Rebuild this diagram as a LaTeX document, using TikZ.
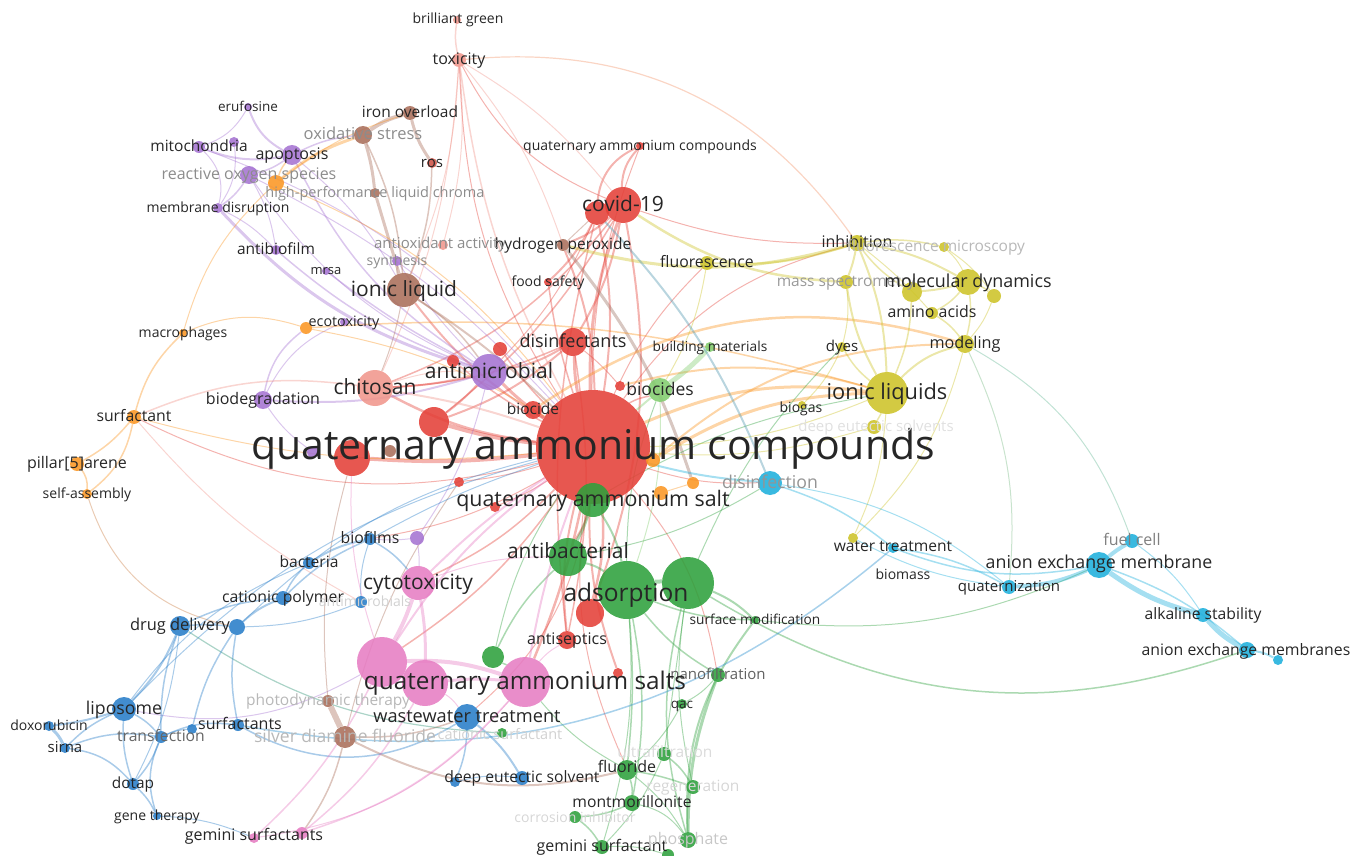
\documentclass[tikz,border=0pt]{standalone}
\usepackage{fontspec}
\setmainfont{Open Sans}
\pgfdeclarelayer{bg}
\pgfsetlayers{bg,main}
\definecolor{cred}{RGB}{228,64,56}
\definecolor{cgreen}{RGB}{46,160,60}
\definecolor{cblue}{RGB}{40,125,200}
\definecolor{cyel}{RGB}{205,195,40}
\definecolor{cpur}{RGB}{165,115,210}
\definecolor{ccyan}{RGB}{30,175,220}
\definecolor{corange}{RGB}{250,150,35}
\definecolor{cbrown}{RGB}{170,110,90}
\definecolor{cpink}{RGB}{230,125,195}
\definecolor{csalm}{RGB}{240,150,140}
\definecolor{clgreen}{RGB}{130,205,110}
\newcommand\edg[5]{\draw[draw=#1, line width=#2pt, draw opacity=0.4] (#3) to[bend left=#5] (#4);}
\begin{document}
\begin{tikzpicture}[x=1pt,y=-1pt,
  nd/.style={circle, fill=#1, draw=none, inner sep=0pt, fill opacity=0.88},
  lb/.style={font=\fontsize{#1}{#1}\selectfont, text=black!85, inner sep=0pt, anchor=base, yshift={-0.3*#1pt}},
]
\useasboundingbox (0,0) rectangle (1353,856);
% ---------- nodes ----------
% red
\node[nd=cred, minimum size=114pt] (Q) at (593,447) {};
\node[nd=cred, minimum size=36pt] (covid) at (623,205) {};
\node[nd=cred, minimum size=24pt] (covidb) at (597,213) {};
\node[nd=cred, minimum size=8pt] (qacs) at (640,146) {};
\node[nd=cred, minimum size=28pt] (disinf) at (573,342) {};
\node[nd=cred, minimum size=8pt] (fsafe) at (548,282) {};
\node[nd=cred, minimum size=18pt] (biocide) at (533,410) {};
\node[nd=cred, minimum size=30pt] (rL) at (434,422) {};
\node[nd=cred, minimum size=36pt] (rQ) at (352,458) {};
\node[nd=cred, minimum size=12pt] (r1) at (453,361) {};
\node[nd=cred, minimum size=14pt] (r2) at (500,349) {};
\node[nd=cred, minimum size=10pt] (r3) at (620,386) {};
\node[nd=cred, minimum size=10pt] (r4) at (459,482) {};
\node[nd=cred, minimum size=10pt] (r5) at (495,507) {};
\node[nd=cred, minimum size=18pt] (antisep) at (567,640) {};
\node[nd=cred, minimum size=28pt] (r6) at (590,613) {};
\node[nd=cred, minimum size=10pt] (r7) at (618,673) {};
\node[nd=cred!60!cbrown, minimum size=10pt] (ros) at (432,163) {};
\node[nd=csalm, minimum size=10pt] (antiox) at (443,245) {};
% salmon
\node[nd=csalm, minimum size=14pt] (tox) at (459,60) {};
\node[nd=csalm, minimum size=8pt] (bgreen) at (457,20) {};
\node[nd=csalm, minimum size=36pt] (chitosan) at (375,388) {};
% brown
\node[nd=cbrown, minimum size=34pt] (ionic) at (404,290) {};
\node[nd=cbrown, minimum size=14pt] (iron) at (410,113) {};
\node[nd=cbrown, minimum size=18pt] (oxid) at (363,135) {};
\node[nd=cbrown, minimum size=10pt] (hplc) at (375,193) {};
\node[nd=cbrown, minimum size=12pt] (hperox) at (563,245) {};
\node[nd=cbrown, minimum size=22pt] (silver) at (345,737) {};
\node[nd=cbrown, minimum size=12pt] (photo) at (328,701) {};
\node[nd=cbrown, minimum size=12pt] (b1) at (390,451) {};
% purple
\node[nd=cpur, minimum size=36pt] (antimic) at (489,372) {};
\node[nd=cpur, minimum size=20pt] (apop) at (292,155) {};
\node[nd=cpur, minimum size=12pt] (mito) at (199,147) {};
\node[nd=cpur, minimum size=10pt] (p1) at (234,142) {};
\node[nd=cpur, minimum size=8pt] (eruf) at (248,107) {};
\node[nd=cpur, minimum size=18pt] (reactive) at (249,175) {};
\node[nd=cpur, minimum size=10pt] (memb) at (218,208) {};
\node[nd=cpur, minimum size=10pt] (antibiof) at (276,250) {};
\node[nd=cpur, minimum size=8pt] (mrsa) at (326,271) {};
\node[nd=cpur, minimum size=10pt] (synth) at (397,261) {};
\node[nd=cpur, minimum size=18pt] (biodeg) at (263,400) {};
\node[nd=cpur, minimum size=8pt] (ecotox) at (344,322) {};
\node[nd=cpur, minimum size=14pt] (p2) at (417,538) {};
\node[nd=cpur, minimum size=12pt] (p3) at (313,452) {};
% orange
\node[nd=corange, minimum size=16pt] (o1) at (276,183) {};
\node[nd=corange, minimum size=12pt] (o2) at (306,328) {};
\node[nd=corange, minimum size=8pt] (macro) at (183,333) {};
\node[nd=corange, minimum size=14pt] (surf) at (134,417) {};
\node[nd=corange, minimum size=14pt] (pillar) at (77,464) {};
\node[nd=corange, minimum size=10pt] (selfa) at (87,494) {};
\node[nd=corange, minimum size=14pt] (o3) at (653,460) {};
\node[nd=corange, minimum size=12pt] (o4) at (693,483) {};
\node[nd=corange, minimum size=14pt] (o5) at (661,493) {};
% green
\node[nd=cgreen, minimum size=34pt] (qas) at (593,500) {};
\node[nd=cgreen, minimum size=38pt] (antibac) at (568,557) {};
\node[nd=cgreen, minimum size=58pt] (ads) at (627,590) {};
\node[nd=cgreen, minimum size=52pt] (ads2) at (688,583) {};
\node[nd=cgreen, minimum size=8pt] (surfmod) at (755,620) {};
\node[nd=cgreen, minimum size=22pt] (g1) at (493,657) {};
\node[nd=cgreen, minimum size=14pt] (nanof) at (718,675) {};
\node[nd=cgreen, minimum size=10pt] (qac) at (682,704) {};
\node[nd=cgreen, minimum size=14pt] (g2) at (664,754) {};
\node[nd=cgreen, minimum size=20pt] (fluoride) at (627,770) {};
\node[nd=cgreen, minimum size=14pt] (regen) at (693,787) {};
\node[nd=cgreen, minimum size=16pt] (montm) at (632,803) {};
\node[nd=cgreen, minimum size=12pt] (corr) at (575,817) {};
\node[nd=cgreen, minimum size=14pt] (gemini) at (602,847) {};
\node[nd=cgreen, minimum size=16pt] (phos) at (688,840) {};
\node[nd=cgreen, minimum size=12pt] (g3) at (668,855) {};
\node[nd=cgreen, minimum size=10pt] (catsurf) at (502,733) {};
\node[nd=clgreen, minimum size=10pt] (bmat) at (710,347) {};
\node[nd=clgreen, minimum size=24pt] (biocides) at (660,390) {};
% blue
\node[nd=cblue, minimum size=12pt] (biofilms) at (370,539) {};
\node[nd=cblue, minimum size=12pt] (bact) at (309,563) {};
\node[nd=cblue, minimum size=14pt] (catpoly) at (283,598) {};
\node[nd=cblue, minimum size=12pt] (bl1) at (361,602) {};
\node[nd=cblue, minimum size=16pt] (bl2) at (237,627) {};
\node[nd=cblue, minimum size=20pt] (drug) at (180,626) {};
\node[nd=cblue, minimum size=24pt] (lipo) at (124,709) {};
\node[nd=cblue, minimum size=10pt] (doxo) at (49,726) {};
\node[nd=cblue, minimum size=10pt] (sirna) at (65,748) {};
\node[nd=cblue, minimum size=12pt] (transf) at (161,737) {};
\node[nd=cblue, minimum size=10pt] (bl3) at (192,729) {};
\node[nd=cblue, minimum size=12pt] (surfs) at (238,725) {};
\node[nd=cblue, minimum size=12pt] (dotap) at (133,784) {};
\node[nd=cblue, minimum size=8pt] (gene) at (157,816) {};
\node[nd=cblue, minimum size=26pt] (waste) at (467,717) {};
\node[nd=cblue, minimum size=14pt] (des) at (522,778) {};
\node[nd=cblue, minimum size=10pt] (bl4) at (455,782) {};
% pink
\node[nd=cpink, minimum size=34pt] (cyto) at (418,583) {};
\node[nd=cpink, minimum size=50pt] (pk1) at (382,662) {};
\node[nd=cpink, minimum size=46pt] (pk2) at (425,683) {};
\node[nd=cpink, minimum size=50pt] (qass) at (525,682) {};
\node[nd=cpink, minimum size=10pt] (gem1) at (254,838) {};
\node[nd=cpink, minimum size=12pt] (gem2) at (302,833) {};
% yellow
\node[nd=cyel, minimum size=42pt] (ionics) at (887,393) {};
\node[nd=cyel, minimum size=16pt] (inhib) at (857,243) {};
\node[nd=cyel, minimum size=10pt] (fmicro) at (944,247) {};
\node[nd=cyel, minimum size=14pt] (mass) at (846,282) {};
\node[nd=cyel, minimum size=26pt] (moldyn) at (968,282) {};
\node[nd=cyel, minimum size=20pt] (y1) at (912,292) {};
\node[nd=cyel, minimum size=14pt] (y2) at (994,296) {};
\node[nd=cyel, minimum size=12pt] (amino) at (932,313) {};
\node[nd=cyel, minimum size=18pt] (model) at (965,344) {};
\node[nd=cyel, minimum size=10pt] (dyes) at (842,347) {};
\node[nd=cyel, minimum size=8pt] (biogas) at (802,405) {};
\node[nd=cyel, minimum size=14pt] (y3) at (874,427) {};
\node[nd=cyel, minimum size=14pt] (fluor) at (707,263) {};
\node[nd=cyel, minimum size=10pt] (wtreat) at (853,538) {};
% cyan
\node[nd=ccyan, minimum size=24pt] (disinfn) at (770,483) {};
\node[nd=ccyan, minimum size=26pt] (aem) at (1099,565) {};
\node[nd=ccyan, minimum size=14pt] (fuel) at (1132,541) {};
\node[nd=ccyan, minimum size=14pt] (quatz) at (1009,587) {};
\node[nd=ccyan, minimum size=14pt] (alk) at (1203,615) {};
\node[nd=ccyan, minimum size=16pt] (aems) at (1247,650) {};
\node[nd=ccyan, minimum size=10pt] (c1) at (1278,660) {};
\node[nd=ccyan, minimum size=10pt] (c2) at (893,548) {};
% ---------- edges ----------
\begin{pgfonlayer}{bg}
% red hub
\edg{cred}{3}{Q}{covid}{10}
\edg{cred}{2}{Q}{covidb}{-10}
\edg{cred}{3}{Q}{disinf}{5}
\edg{cred}{2.5}{Q}{chitosan}{10}
\edg{cred}{2}{Q}{ionic}{10}
\edg{cred}{3}{Q}{antimic}{5}
\edg{cred}{2}{Q}{biocide}{0}
\edg{cred}{4}{Q}{rL}{5}
\edg{cred}{4}{Q}{rQ}{5}
\edg{cred}{2}{Q}{hperox}{-10}
\edg{cred}{1.5}{Q}{fsafe}{5}
\edg{cred}{1}{Q}{tox}{15}
\edg{cred}{1}{Q}{qacs}{10}
\edg{cred}{1.5}{Q}{r1}{5}
\edg{cred}{1.5}{Q}{r2}{5}
\edg{cred}{2}{Q}{antisep}{-10}
\edg{cred}{2.5}{Q}{r6}{10}
\edg{cred}{2}{Q}{r7}{-10}
\edg{cred}{1.5}{Q}{pk1}{10}
\edg{cred}{2.5}{Q}{qass}{5}
\edg{cred}{1.5}{Q}{cyto}{10}
\edg{cred}{2}{Q}{antibac}{10}
\edg{corange}{3}{Q}{ionics}{15}
\edg{cred}{1.5}{Q}{biocides}{10}
\edg{cred}{1}{Q}{inhib}{20}
\edg{cred}{1}{Q}{fluor}{10}
\edg{cred}{1}{Q}{disinfn}{-10}
\edg{cred}{1}{Q}{waste}{20}
\edg{cred}{1}{Q}{biofilms}{10}
\edg{cred}{1}{Q}{surf}{20}
\edg{cred}{1}{Q}{fluoride}{-15}
\edg{cred}{1}{Q}{nanof}{15}
\edg{cred}{1}{Q}{r4}{5}
\edg{cred}{1}{Q}{r5}{5}
% covid
\edg{cred}{2}{covid}{qacs}{20}
\edg{cred}{2}{covidb}{qacs}{30}
\edg{cred}{2}{covid}{hperox}{10}
\edg{cred}{2}{covidb}{fsafe}{10}
\edg{cred}{2}{covid}{disinf}{10}
\edg{cred}{2}{covid}{r6}{15}
\edg{cred}{1.5}{covidb}{antisep}{-10}
\edg{cred}{1.5}{covid}{rL}{10}
\edg{cred}{1.5}{covid}{chitosan}{15}
\edg{cred}{1}{covid}{inhib}{-10}
\edg{cyel}{3}{hperox}{inhib}{-15}
\edg{cyel}{2.5}{covid}{mass}{-15}
\edg{cred}{1}{covidb}{antimic}{10}
\edg{cred}{1}{covid}{tox}{20}
% disinfectants / antimicrobial
\edg{cred}{2}{disinf}{antimic}{10}
\edg{cred}{2}{disinf}{rL}{10}
\edg{cred}{1.5}{disinf}{chitosan}{10}
\edg{cred}{1.5}{disinf}{antisep}{10}
\edg{cred}{1}{disinf}{r3}{5}
\edg{cpur}{3}{antimic}{memb}{15}
\edg{cpur}{1.5}{antimic}{antibiof}{10}
\edg{cpur}{1.5}{antimic}{mrsa}{5}
\edg{cpur}{2}{antimic}{biodeg}{10}
\edg{cpur}{1}{antimic}{synth}{5}
\edg{cpur}{1.5}{antimic}{apop}{15}
\edg{cpur}{1}{antimic}{p2}{10}
\edg{cpur}{1}{antimic}{reactive}{15}
\edg{cred}{2}{antimic}{chitosan}{5}
\edg{cred}{2}{antimic}{rL}{5}
% purple cluster
\edg{cpur}{2}{apop}{mito}{15}
\edg{cpur}{1.5}{apop}{reactive}{10}
\edg{cpur}{2}{apop}{eruf}{20}
\edg{cpur}{1.5}{apop}{oxid}{10}
\edg{cpur}{1}{mito}{memb}{30}
\edg{cpur}{1}{eruf}{mito}{20}
\edg{cpur}{1}{p1}{memb}{20}
\edg{cpur}{1.5}{reactive}{memb}{10}
\edg{cpur}{1}{reactive}{antibiof}{10}
\edg{cpur}{1}{memb}{antibiof}{10}
\edg{cpur}{1}{biodeg}{ecotox}{20}
\edg{cpur}{1.5}{biodeg}{o2}{20}
\edg{cpur}{1}{mito}{Q}{15}
\edg{cpur}{1}{reactive}{Q}{10}
\edg{cpur}{1}{p3}{biodeg}{10}
\edg{cpur}{1}{p2}{cyto}{5}
\edg{cpur}{1}{p2}{biofilms}{5}
\edg{cpur}{1}{apop}{ionic}{10}
\edg{cpur}{1}{pk1}{lipo}{20}
% brown
\edg{cbrown}{4}{oxid}{iron}{10}
\edg{cbrown}{3}{oxid}{hplc}{5}
\edg{cbrown}{3}{hplc}{ionic}{0}
\edg{cbrown}{3}{iron}{ros}{-10}
\edg{cbrown}{1.5}{oxid}{ionic}{10}
\edg{cbrown}{1.5}{ros}{ionic}{10}
\edg{cbrown}{2}{ionic}{Q}{5}
\edg{cbrown}{1}{ionic}{synth}{10}
\edg{cbrown}{1.5}{ionic}{antimic}{10}
\edg{cbrown}{1}{ionic}{chitosan}{5}
\edg{cbrown!70!gray}{3}{hperox}{o4}{10}
\edg{cbrown}{6}{photo}{silver}{0}
\edg{cbrown}{2}{silver}{fluoride}{-20}
\edg{cbrown}{1.5}{silver}{gem2}{10}
\edg{cbrown}{1}{silver}{r4}{10}
\edg{cbrown}{1}{photo}{rQ}{10}
\edg{cbrown}{1.5}{silver}{waste}{-10}
\edg{cbrown}{1}{hperox}{covidb}{0}
% salmon
\edg{csalm}{1.5}{tox}{bgreen}{10}
\edg{csalm}{1.5}{tox}{Q}{-10}
\edg{csalm}{1}{tox}{ionic}{10}
\edg{csalm!70!corange}{1.2}{tox}{inhib}{30}
\edg{csalm}{1}{tox}{chitosan}{10}
\edg{csalm}{1}{tox}{antiox}{10}
\edg{csalm}{1}{tox}{covid}{10}
\edg{csalm}{2}{chitosan}{Q}{5}
\edg{csalm}{1.5}{chitosan}{surf}{-15}
\edg{csalm}{1}{chitosan}{antimic}{10}
\edg{csalm}{1}{tox}{hperox}{10}
\edg{csalm}{1}{surf}{bl1}{-10}
% orange
\edg{corange}{1.5}{surf}{macro}{15}
\edg{corange}{1.5}{surf}{pillar}{10}
\edg{corange}{1.5}{surf}{selfa}{20}
\edg{corange}{1.5}{pillar}{selfa}{20}
\edg{corange}{1}{macro}{o1}{15}
\edg{corange}{1}{macro}{o2}{20}
\edg{corange}{3}{o1}{oxid}{10}
\edg{corange}{1.5}{o1}{apop}{10}
\edg{corange}{1}{o1}{Q}{15}
\edg{corange}{1}{o1}{iron}{10}
\edg{corange}{1.5}{o2}{ionics}{10}
\edg{corange}{1}{o2}{Q}{10}
\edg{corange}{3}{o3}{ionics}{15}
\edg{corange}{2}{o3}{model}{20}
\edg{corange}{2.5}{biocide}{model}{25}
\edg{corange}{2}{r3}{ionics}{15}
\edg{corange}{1}{o4}{o5}{0}
\edg{corange}{1}{surf}{Q}{-10}
\edg{cbrown!60!corange}{1}{selfa}{bl2}{-30}
% green
\edg{cgreen}{3}{qas}{antibac}{5}
\edg{cgreen}{2}{qas}{ads}{10}
\edg{cgreen}{2}{antibac}{ads}{10}
\edg{cgreen}{4}{ads}{ads2}{10}
\edg{cgreen}{1.5}{ads}{surfmod}{-10}
\edg{cgreen}{2}{ads2}{surfmod}{10}
\edg{cgreen}{1.5}{ads}{nanof}{-10}
\edg{cgreen}{1.5}{ads}{fluoride}{5}
\edg{cgreen}{1.5}{ads}{montm}{10}
\edg{cgreen}{1}{ads}{gemini}{10}
\edg{cgreen}{1.5}{ads2}{phos}{-15}
\edg{cgreen}{1}{ads2}{regen}{-10}
\edg{cgreen}{1}{ads2}{g2}{0}
\edg{cgreen}{3}{nanof}{phos}{-10}
\edg{cgreen}{2}{surfmod}{phos}{-20}
\edg{cgreen}{1}{nanof}{qac}{10}
\edg{cgreen}{1}{qac}{fluoride}{10}
\edg{cgreen}{1.5}{fluoride}{montm}{10}
\edg{cgreen}{1.5}{fluoride}{regen}{5}
\edg{cgreen}{1.5}{g2}{regen}{10}
\edg{cgreen}{1}{g2}{gemini}{10}
\edg{cgreen}{1.5}{montm}{corr}{10}
\edg{cgreen}{1.5}{corr}{gemini}{10}
\edg{cgreen}{1}{fluoride}{phos}{10}
\edg{cgreen}{1}{montm}{phos}{20}
\edg{cgreen}{1}{gemini}{g3}{10}
\edg{cgreen}{1.5}{g1}{antibac}{10}
\edg{cgreen}{1.5}{g1}{qass}{5}
\edg{cgreen}{1}{g1}{Q}{10}
\edg{cgreen}{1.5}{ads2}{aems}{-25}
\edg{cgreen}{1}{surfmod}{aem}{-15}
\edg{cgreen}{1}{antibac}{disinfn}{-10}
\edg{cgreen}{1}{qas}{ionics}{10}
\edg{cgreen}{1}{ads2}{dyes}{10}
\edg{cgreen}{1}{ads}{biocides}{10}
\edg{cgreen}{1}{qass}{fluoride}{-10}
\edg{cgreen!60!cblue}{1.2}{drug}{catsurf}{-15}
\edg{clgreen}{5}{bmat}{biocides}{5}
\edg{clgreen}{2}{biocides}{Q}{0}
\edg{clgreen}{1}{biocides}{ads}{10}
% blue
\edg{cblue}{2}{drug}{lipo}{10}
\edg{cblue}{1.5}{drug}{bl2}{5}
\edg{cblue}{1.5}{drug}{catpoly}{10}
\edg{cblue}{1.5}{drug}{transf}{-10}
\edg{cblue}{1}{drug}{dotap}{10}
\edg{cblue}{2}{lipo}{doxo}{5}
\edg{cblue}{1.5}{lipo}{sirna}{-10}
\edg{cblue}{1.5}{lipo}{transf}{10}
\edg{cblue}{1.5}{lipo}{dotap}{-10}
\edg{cblue}{3}{doxo}{sirna}{10}
\edg{cblue}{1.5}{sirna}{transf}{15}
\edg{cblue}{1.5}{sirna}{dotap}{20}
\edg{cblue}{1.5}{transf}{dotap}{10}
\edg{cblue}{1.5}{dotap}{gene}{10}
\edg{cblue}{1.5}{transf}{gene}{-20}
\edg{cblue}{1.5}{transf}{surfs}{15}
\edg{cblue}{1}{transf}{bl3}{10}
\edg{cblue}{1.5}{surfs}{bl2}{10}
\edg{cblue}{1.5}{bl3}{bl2}{10}
\edg{cblue}{2}{bl2}{catpoly}{10}
\edg{cblue}{1.5}{catpoly}{bact}{10}
\edg{cblue}{2}{bact}{biofilms}{10}
\edg{cblue}{1.5}{catpoly}{biofilms}{10}
\edg{cblue}{1}{biofilms}{Q}{5}
\edg{cblue}{1.5}{biofilms}{cyto}{10}
\edg{cblue}{1}{bl2}{Q}{15}
\edg{cblue}{1}{bl1}{bl2}{10}
\edg{cblue}{1}{bl1}{biofilms}{10}
\edg{cblue}{1}{lipo}{bact}{15}
\edg{cblue}{1}{lipo}{Q}{15}
\edg{cblue}{1.5}{surfs}{waste}{-30}
\edg{cblue}{2}{waste}{des}{10}
\edg{cblue}{1.5}{waste}{bl4}{10}
\edg{cblue}{1}{bl4}{des}{10}
\edg{cblue!70!ccyan}{1.5}{surfs}{c2}{-25}
\edg{cblue}{1}{gene}{gem1}{10}
% pink
\edg{cpink}{4}{cyto}{pk1}{5}
\edg{cpink}{3}{cyto}{pk2}{5}
\edg{cpink}{4}{pk1}{qass}{10}
\edg{cpink}{3}{pk2}{qass}{5}
\edg{cpink}{2}{pk1}{Q}{10}
\edg{cpink}{2}{cyto}{Q}{5}
\edg{cpink}{2}{qass}{Q}{5}
\edg{cpink}{1.5}{gem1}{pk1}{-10}
\edg{cpink}{1.5}{gem2}{pk2}{-10}
\edg{cpink}{1.5}{gem2}{qass}{-15}
\edg{cpink}{1}{gem1}{qass}{-20}
\edg{cpink}{1}{cyto}{antibac}{10}
\edg{cpink}{1}{pk1}{rQ}{10}
\edg{cpink}{1}{pk2}{waste}{10}
\edg{cpink}{1}{qass}{antisep}{10}
% yellow
\edg{cyel}{2}{inhib}{mass}{5}
\edg{cyel}{2}{inhib}{moldyn}{10}
\edg{cyel}{1.5}{inhib}{y1}{-10}
\edg{cyel}{1.5}{inhib}{fmicro}{10}
\edg{cyel}{2}{inhib}{ionics}{10}
\edg{cyel}{2}{inhib}{fluor}{10}
\edg{cyel}{1}{inhib}{amino}{5}
\edg{cyel}{1.5}{moldyn}{amino}{10}
\edg{cyel}{1.5}{moldyn}{model}{10}
\edg{cyel}{2}{moldyn}{y1}{5}
\edg{cyel}{1.5}{moldyn}{y2}{10}
\edg{cyel}{1}{fmicro}{y2}{10}
\edg{cyel}{1}{fmicro}{moldyn}{10}
\edg{cyel}{1.5}{y1}{ionics}{10}
\edg{cyel}{1.5}{amino}{model}{10}
\edg{cyel}{2}{ionics}{model}{15}
\edg{cyel}{1.5}{ionics}{dyes}{10}
\edg{cyel}{2}{ionics}{mass}{10}
\edg{cyel}{1.5}{ionics}{y3}{5}
\edg{cyel}{1}{ionics}{wtreat}{10}
\edg{cyel}{1}{mass}{dyes}{10}
\edg{cyel}{1}{dyes}{biogas}{10}
\edg{cyel}{1}{fluor}{biocides}{10}
\edg{cyel}{1}{y3}{Q}{10}
\edg{cyel}{1}{ionics}{Q}{10}
\edg{cyel}{1}{model}{wtreat}{15}
\edg{cyel!50!ccyan}{1}{model}{quatz}{15}
\edg{cyel!40!ccyan}{1}{model}{fuel}{20}
\edg{cyel}{1}{y2}{model}{10}
% cyan
\edg{ccyan}{4}{aem}{fuel}{5}
\edg{ccyan}{4}{aem}{quatz}{10}
\edg{ccyan}{5}{aem}{alk}{-10}
\edg{ccyan}{5}{alk}{aems}{-10}
\edg{ccyan}{2}{aems}{c1}{10}
\edg{ccyan}{1.5}{aem}{aems}{10}
\edg{ccyan}{1}{fuel}{alk}{10}
\edg{ccyan}{1.5}{quatz}{c2}{-10}
\edg{ccyan}{1.5}{c2}{aem}{-15}
\edg{ccyan}{1.5}{disinfn}{c2}{10}
\edg{ccyan}{2}{disinfn}{Q}{5}
\edg{ccyan!50!gray}{2}{disinfn}{covidb}{-10}
\edg{ccyan}{1}{disinfn}{quatz}{15}
\edg{ccyan}{1}{quatz}{wtreat}{10}
\end{pgfonlayer}
% ---------- labels ----------
\node[lb=41] (tQ) at (Q) {quaternary ammonium compounds};
\node[lb=21] (tcovid) at (covid) {covid-19};
\node[lb=14] (tqacs) at (qacs) {quaternary ammonium compounds};
\node[lb=18] (tdisinf) at (disinf) {disinfectants};
\node[lb=14] (tfsafe) at (fsafe) {food safety};
\node[lb=15.5] (thperox) at (hperox) {hydrogen peroxide};
\node[lb=15.5] (tbiocide) at (biocide) {biocide};
\node[lb=16] (tantisep) at (antisep) {antiseptics};
\node[lb=15] (tros) at (ros) {ros};
\node[lb=15, text=black!45] (tantiox) at (440,244) {antioxidant activity};
\node[lb=16] (ttox) at (tox) {toxicity};
\node[lb=14] (tbgreen) at (458,19) {brilliant green};
\node[lb=21] (tchitosan) at (chitosan) {chitosan};
\node[lb=21] (tionic) at (ionic) {ionic liquid};
\node[lb=15.5] (tiron) at (iron) {iron overload};
\node[lb=16.5, text=black!45] (toxid) at (oxid) {oxidative stress};
\node[lb=14.5, text=black!45] (thplc) at (hplc) {high-performance liquid chroma};
\node[lb=17.5, text=black!28] (tsilver) at (silver) {silver diamine fluoride};
\node[lb=15.5, text=black!28] (tphoto) at (photo) {photodynamic therapy};
\node[lb=21] (tantimic) at (antimic) {antimicrobial};
\node[lb=16] (tapop) at (apop) {apoptosis};
\node[lb=15.5] (tmito) at (mito) {mitochondria};
\node[lb=13.5] (teruf) at (eruf) {erufosine};
\node[lb=16, text=black!45] (treactive) at (reactive) {reactive oxygen species};
\node[lb=14] (tmemb) at (memb) {membrane disruption};
\node[lb=15.5] (tantibiof) at (antibiof) {antibiofilm};
\node[lb=13] (tmrsa) at (mrsa) {mrsa};
\node[lb=14, text=black!45] (tsynth) at (synth) {synthesis};
\node[lb=16] (tbiodeg) at (biodeg) {biodegradation};
\node[lb=14.3] (tecotox) at (ecotox) {ecotoxicity};
\node[lb=14] (tmacro) at (macro) {macrophages};
\node[lb=15.8] (tsurf) at (surf) {surfactant};
\node[lb=16] (tpillar) at (pillar) {pillar[5]arene};
\node[lb=14] (tselfa) at (selfa) {self-assembly};
\node[lb=21.4] (tqas) at (qas) {quaternary ammonium salt};
\node[lb=21] (tantibac) at (568,552) {antibacterial};
\node[lb=24.5] (tads) at (626,594) {adsorption};
\node[lb=13.7] (tsurfmod) at (surfmod) {surface modification};
\node[lb=15, text=black!62] (tnanof) at (nanof) {nanofiltration};
\node[lb=13.5] (tqac) at (qac) {qac};
\node[lb=15.5, text=black!14] (tg2) at (665,753) {ultrafiltration};
\node[lb=16] (tfluoride) at (627,768) {fluoride};
\node[lb=15.5, text=black!16] (tregen) at (regen) {regeneration};
\node[lb=15.7] (tmontm) at (montm) {montmorillonite};
\node[lb=14, text=black!16] (tcorr) at (575,818) {corrosion inhibitor};
\node[lb=16] (tgemini) at (gemini) {gemini surfactant};
\node[lb=16, text=black!22] (tphos) at (phos) {phosphate};
\node[lb=14.5, text=black!18] (tcatsurf) at (500,735) {cationic surfactant};
\node[lb=13.7] (tbmat) at (bmat) {building materials};
\node[lb=17.5] (tbiocides) at (biocides) {biocides};
\node[lb=15.8] (tbiofilms) at (biofilms) {biofilms};
\node[lb=15.6] (tbact) at (bact) {bacteria};
\node[lb=15.8] (tcatpoly) at (catpoly) {cationic polymer};
\node[lb=14, text=black!18] (tbl1) at (365,602) {antimicrobials};
\node[lb=16.4] (tdrug) at (drug) {drug delivery};
\node[lb=17.7] (tlipo) at (lipo) {liposome};
\node[lb=14] (tdoxo) at (doxo) {doxorubicin};
\node[lb=15] (tsirna) at (sirna) {sirna};
\node[lb=15.7, text=black!60] (ttransf) at (transf) {transfection};
\node[lb=16] (tsurfs) at (240,725) {surfactants};
\node[lb=15.4] (tdotap) at (dotap) {dotap};
\node[lb=14] (tgene) at (gene) {gene therapy};
\node[lb=18.2] (twaste) at (waste) {wastewater treatment};
\node[lb=15.7] (tdes) at (des) {deep eutectic solvent};
\node[lb=21] (tcyto) at (cyto) {cytotoxicity};
\node[lb=24.3] (tqass) at (qass) {quaternary ammonium salts};
\node[lb=16] (tgem) at (254,836) {gemini surfactants};
\node[lb=21.8] (tionics) at (ionics) {ionic liquids};
\node[lb=16] (tinhib) at (inhib) {inhibition};
\node[lb=15.5, text=black!28] (tfmicro) at (936,247) {fluorescence microscopy};
\node[lb=15.5, text=black!40] (tmass) at (mass) {mass spectrometry};
\node[lb=17.9] (tmoldyn) at (moldyn) {molecular dynamics};
\node[lb=15.9] (tamino) at (amino) {amino acids};
\node[lb=16.2] (tmodel) at (model) {modeling};
\node[lb=15] (tdyes) at (dyes) {dyes};
\node[lb=14] (tbiogas) at (801,408) {biogas};
\node[lb=15, text=black!12] (ty3) at (876,427) {deep eutectic solvents};
\node[lb=15.8] (tfluor) at (fluor) {fluorescence};
\node[lb=15.6] (twtreat) at (893,547) {water treatment};
\node[lb=14] (tbiomass) at (903,575) {biomass};
\node[lb=17.7, text=black!42] (tdisinfn) at (disinfn) {disinfection};
\node[lb=17.8] (taem) at (1099,563) {anion exchange membrane};
\node[lb=16, text=black!50] (tfuel) at (fuel) {fuel cell};
\node[lb=15] (tquatz) at (quatz) {quaternization};
\node[lb=15.7] (talk) at (alk) {alkaline stability};
\node[lb=15.8] (taems) at (1246,651) {anion exchange membranes};
\end{tikzpicture}
\end{document}
